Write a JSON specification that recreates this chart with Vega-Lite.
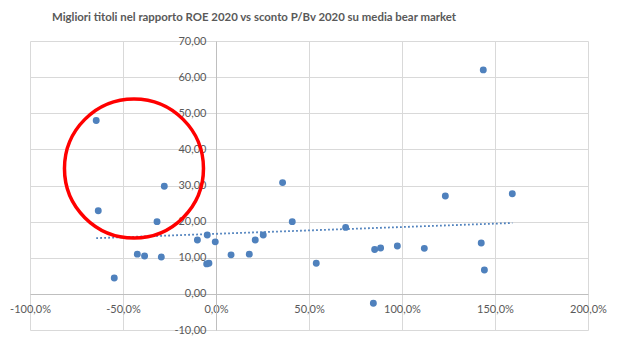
{
  "$schema": "https://vega.github.io/schema/vega-lite/v6.json",
  "width": 558,
  "height": 289,
  "autosize": {"type": "none"},
  "padding": {"left": 30, "top": 41, "right": 33, "bottom": 21},
  "background": "white",
  "title": {
    "text": "Migliori titoli nel rapporto ROE 2020 vs sconto P/Bv 2020 su media bear market",
    "font": "Lato",
    "fontSize": 11.4,
    "fontWeight": "bold",
    "color": "#595959",
    "anchor": "middle",
    "frame": "group",
    "dx": -55,
    "offset": 12
  },
  "datasets": {
    "titoli": [
      {"pb": -0.644, "roe": 48.0},
      {"pb": -0.278, "roe": 29.8},
      {"pb": -0.633, "roe": 23.0},
      {"pb": -0.317, "roe": 20.0},
      {"pb": 0.358, "roe": 30.8},
      {"pb": 0.410, "roe": 20.0},
      {"pb": -0.047, "roe": 16.3},
      {"pb": -0.100, "roe": 14.9},
      {"pb": -0.004, "roe": 14.4},
      {"pb": 0.254, "roe": 16.3},
      {"pb": 0.211, "roe": 14.9},
      {"pb": -0.423, "roe": 11.0},
      {"pb": -0.384, "roe": 10.5},
      {"pb": -0.294, "roe": 10.2},
      {"pb": 0.081, "roe": 10.8},
      {"pb": 0.179, "roe": 11.0},
      {"pb": -0.050, "roe": 8.3},
      {"pb": -0.038, "roe": 8.5},
      {"pb": 0.539, "roe": 8.5},
      {"pb": -0.547, "roe": 4.4},
      {"pb": 1.437, "roe": 62.0},
      {"pb": 1.233, "roe": 27.1},
      {"pb": 1.593, "roe": 27.7},
      {"pb": 0.697, "roe": 18.4},
      {"pb": 0.853, "roe": 12.3},
      {"pb": 0.885, "roe": 12.7},
      {"pb": 0.975, "roe": 13.25},
      {"pb": 1.120, "roe": 12.6},
      {"pb": 1.426, "roe": 14.1},
      {"pb": 1.443, "roe": 6.6},
      {"pb": 0.846, "roe": -2.6}
    ],
    "evidenza": [
      {"pb": -0.441, "roe": 34.7}
    ]
  },
  "encoding": {
    "x": {
      "field": "pb",
      "type": "quantitative",
      "scale": {"domain": [-1, 2], "nice": false, "zero": false},
      "axis": {
        "title": null,
        "values": [-1, -0.5, 0, 0.5, 1, 1.5, 2],
        "format": ".1%",
        "offset": -36,
        "ticks": false,
        "labelPadding": 9,
        "grid": true,
        "gridColor": "#d9d9d9",
        "domainColor": "#bfbfbf",
        "labelFont": "Lato",
        "labelFontSize": 11,
        "labelColor": "#595959",
        "labelFlush": false
      }
    },
    "y": {
      "field": "roe",
      "type": "quantitative",
      "scale": {"domain": [-10, 70], "nice": false, "zero": false},
      "axis": {
        "title": null,
        "values": [-10, 0, 10, 20, 30, 40, 50, 60, 70],
        "format": ".2f",
        "offset": -186,
        "ticks": false,
        "labelPadding": 10,
        "grid": true,
        "gridColor": "#d9d9d9",
        "domainColor": "#bfbfbf",
        "labelFont": "Lato",
        "labelFontSize": 11,
        "labelColor": "#595959",
        "labelFlush": false
      }
    }
  },
  "layer": [
    {
      "data": {"name": "titoli"},
      "mark": {"type": "point", "filled": true, "size": 48, "color": "#4F81BD", "opacity": 1}
    },
    {
      "data": {"name": "titoli"},
      "transform": [{"regression": "roe", "on": "pb"}],
      "mark": {"type": "line", "color": "#4F81BD", "strokeWidth": 1.8, "strokeDash": [1.8, 2.2]},
      "encoding": {}
    },
    {
      "data": {"name": "evidenza"},
      "mark": {"type": "point", "filled": false, "size": 19321, "stroke": "#FF0000", "strokeWidth": 3.5, "opacity": 1}
    }
  ],
  "config": {
    "view": {"stroke": null},
    "locale": {
      "number": {"decimal": ",", "thousands": ".", "grouping": [3], "currency": ["", " €"], "minus": "-"}
    }
  }
}
